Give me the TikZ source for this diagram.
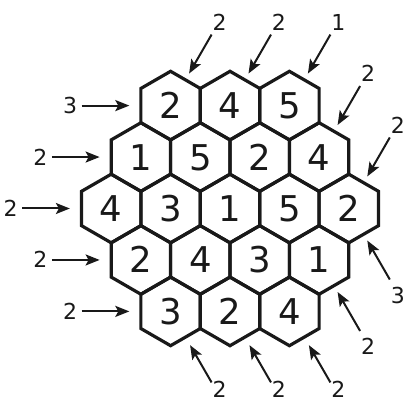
\documentclass[tikz,border=0pt]{standalone}
\usepackage{fontspec}
\setmainfont{DejaVu Sans}
\usetikzlibrary{arrows.meta,calc}
\begin{document}
\begin{tikzpicture}[x=1pt,y=1pt,
  hexline/.style={line width=3.2pt, line join=miter, draw=black!90},
  digit/.style={font=\fontsize{35.5}{36}\selectfont, inner sep=0pt, text height=26pt, text depth=0pt, text=black!90},
  lbl/.style={font=\fontsize{22}{24}\selectfont, inner sep=0pt, text height=16pt, text depth=0pt, text=black!90},
  arr/.style={line width=2pt, draw=black!90, -{Stealth[length=14pt,width=11pt,inset=3pt]}}]
\useasboundingbox (0,0) rectangle (404,405);
\clip (0,0) rectangle (404,405);
% hexagonal grid
\foreach \r/\n/\vals in {0/3/{2,4,5}, 1/4/{1,5,2,4}, 2/5/{4,3,1,5,2}, 3/4/{2,4,3,1}, 4/3/{3,2,4}} {
  \foreach \v [count=\k from 0] in \vals {
    \pgfmathsetmacro\cx{230+(\k-(\n-1)/2)*59.4}
    \pgfmathsetmacro\cy{196.5+(2-\r)*51.45}
    \coordinate (h-\r-\k) at (\cx,\cy);
    \draw[hexline] (h-\r-\k) +(90:34.3) -- +(30:34.3) -- +(-30:34.3) -- +(-90:34.3) -- +(-150:34.3) -- +(150:34.3) -- cycle;
    \node[digit] (n-\r-\k) at (h-\r-\k) {\v};
  }
}
% upper-right clues
\foreach \c/\t [count=\i] in {h-0-0/2, h-0-1/2, h-0-2/1, h-1-3/2, h-2-4/2} {
  \coordinate (ur-tail-\i) at ($(\c)+(60:82)$);
  \coordinate (ur-tip-\i) at ($(\c)+(60:37)$);
  \draw[arr] (ur-tail-\i) -- (ur-tip-\i);
  \node[lbl] (ur-lbl-\i) at ($(\c)+(59.5:96.5)$) {\t};
}
% lower-right clues
\foreach \c/\t/\d/\ys [count=\i] in {h-2-4/3/37/0, h-3-3/2/37/0, h-4-2/2/39/8, h-4-1/2/39/8, h-4-0/2/39/8} {
  \coordinate (lr-tail-\i) at ($(\c)+(-60:82)$);
  \coordinate (lr-tip-\i) at ($(\c)+(-60:\d)$);
  \draw[arr] (lr-tail-\i) -- (lr-tip-\i);
  \node[lbl, yshift=\ys pt] (lr-lbl-\i) at ($(\c)+(-60.5:99.5)$) {\t};
}
% left clues
\foreach \c/\t [count=\i] in {h-0-0/3, h-1-0/2, h-2-0/2, h-3-0/2, h-4-0/2} {
  \coordinate (l-tail-\i) at ($(\c)+(180:89)$);
  \coordinate (l-tip-\i) at ($(\c)+(180:41.3)$);
  \draw[arr] (l-tail-\i) -- (l-tip-\i);
  \node[lbl] (l-lbl-\i) at ($(\c)+(180:100.5)$) {\t};
}
\end{tikzpicture}
\end{document}
